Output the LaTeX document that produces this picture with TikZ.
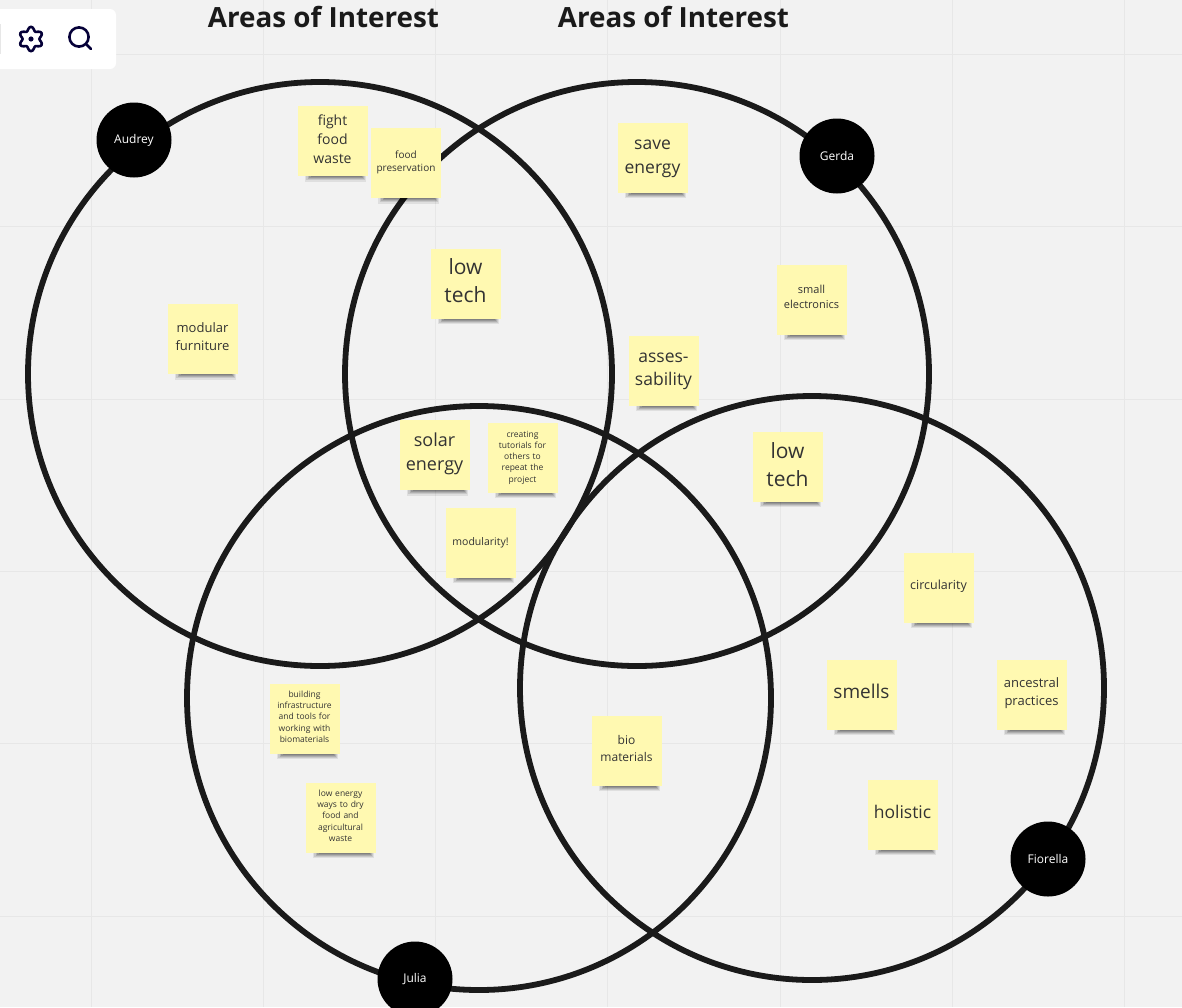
\documentclass[tikz,border=0pt]{standalone}
\usepackage{fontspec}
\setmainfont{Open Sans}
\definecolor{bgc}{HTML}{F2F2F2}
\definecolor{gridc}{HTML}{E7E7E7}
\definecolor{ringc}{HTML}{1A1A1A}
\definecolor{noteY}{HTML}{FFF9B1}
\definecolor{notetxt}{HTML}{333333}
\definecolor{iconc}{HTML}{050038}
\tikzset{
  x=1pt,y=-1pt,
  ring/.style={draw=ringc,line width=5.8pt,fill=none,circle,minimum size=584pt,inner sep=0pt},
  avatar/.style={fill=black,circle,minimum size=75pt,inner sep=0pt,text=white,font=\fontsize{12}{14}\selectfont},
  note/.style={inner sep=0pt,align=center,text=notetxt,text width=68pt},
  heading/.style={text=ringc,font=\fontsize{27.8}{32}\selectfont\bfseries,inner sep=0pt},
  gridline/.style={draw=gridc,line width=1pt},
  bar/.style={fill=white,rounded corners=6pt},
  icon/.style={draw=iconc,line width=2.6pt,line cap=round,line join=round}
}
% #1 name, #2 cx, #3 cy, #4 font size, #5 line height, #6 text shift, #7 text
\newcommand{\stickynote}[7]{%
  \foreach \s/\o in {0/.08,1/.10,2/.12,3/.14,4/.14}{
    \fill[black,opacity=\o] (#2-28+\s*1.5,#3+34) rectangle (#2+33-\s*1,#3+40.5-\s*1.1);
  }
  \fill[noteY] (#2-35,#3-35) rectangle (#2+35,#3+35);
  \node[note,font=\fontsize{#4}{#5}\selectfont] (#1) at (#2,#3+#6) {#7};
}
\begin{document}
\begin{tikzpicture}
\useasboundingbox (0,0) rectangle (1182,1007);
\clip (0,0) rectangle (1182,1007);
\fill[bgc] (0,0) rectangle (1182,1007);
\foreach \gx in {91,263,435,607,780,952,1124}{\draw[gridline] (\gx,0) -- (\gx,1007);}
\foreach \gy in {54,226,399,571,743,916}{\draw[gridline] (0,\gy) -- (1182,\gy);}
% rings
\node[ring] (ringA) at (320,374) {};
\node[ring] (ringB) at (637,374) {};
\node[ring] (ringC) at (479,698) {};
\node[ring] (ringD) at (812,688) {};
% headings
\node[heading] (h1) at (323.5,17) {Areas of Interest};
\node[heading] (h2) at (673.5,17) {Areas of Interest};
% toolbar
\fill[bar] (-20,9) rectangle (116,69);
\fill[gridc] (-1,24) rectangle (1,54);
\draw[icon,shift={(31,39)}] plot[smooth cycle,samples=48,domain=0:352.5] ({(10.3-1.9*cos(6*\x))*cos(\x)},{(10.3-1.9*cos(6*\x))*sin(\x)});
\fill[iconc] (31,39) circle (2.6);
\draw[icon] (79,37) circle (9.6);
\draw[icon] (86.5,44.5) -- (91,49);
% notes
\stickynote{n1}{332.5}{141}{14}{19}{-2}{fight\\food\\waste}
\stickynote{n2}{406}{163}{10}{13}{-1}{food\\preservation}
\stickynote{n3}{465.5}{283.5}{21}{28}{-2.5}{low\\tech}
\stickynote{n4}{202.5}{339}{13}{18}{-2}{modular\\furniture}
\stickynote{n5}{652.5}{157.5}{17.5}{24}{1}{save\\energy}
\stickynote{n6}{811.5}{299.5}{11}{15}{-3}{small\\electronics}
\stickynote{n7}{663.5}{370.5}{17.5}{23}{1}{asses-\\sability}
\stickynote{n8}{787.5}{466.5}{21}{28}{-1.5}{low\\tech}
\stickynote{n9}{434.5}{455}{18}{24}{-1}{solar\\energy}
\stickynote{n10}{522.5}{457.5}{8.5}{11.2}{0}{creating\\tutorials for\\others to\\repeat the\\project}
\stickynote{n11}{480.5}{542.5}{10.5}{14}{0}{modularity!}
\stickynote{n12}{938.5}{587.5}{12.5}{16}{-1}{circularity}
\stickynote{n13}{861.5}{694.5}{19}{24}{-3}{smells}
\stickynote{n14}{1031.5}{694.5}{13}{18}{-1}{ancestral\\practices}
\stickynote{n15}{902.5}{814.5}{17.5}{22}{-2.5}{holistic}
\stickynote{n16}{626.5}{750.5}{12}{17}{-2}{bio\\materials}
\stickynote{n17}{304.5}{718.5}{8.5}{11.3}{-2}{building\\infrastructure\\and tools for\\working with\\biomaterials}
\stickynote{n18}{340.5}{817.5}{8.5}{11.3}{-2}{low energy\\ways to dry\\food and\\agricultural\\waste}
% avatars
\node[avatar] (audrey) at (134,140) {Audrey};
\node[avatar] (gerda) at (837,156) {Gerda};
\node[avatar] (julia) at (415,979) {Julia};
\node[avatar] (fiorella) at (1048,859) {Fiorella};
\end{tikzpicture}
\end{document}
